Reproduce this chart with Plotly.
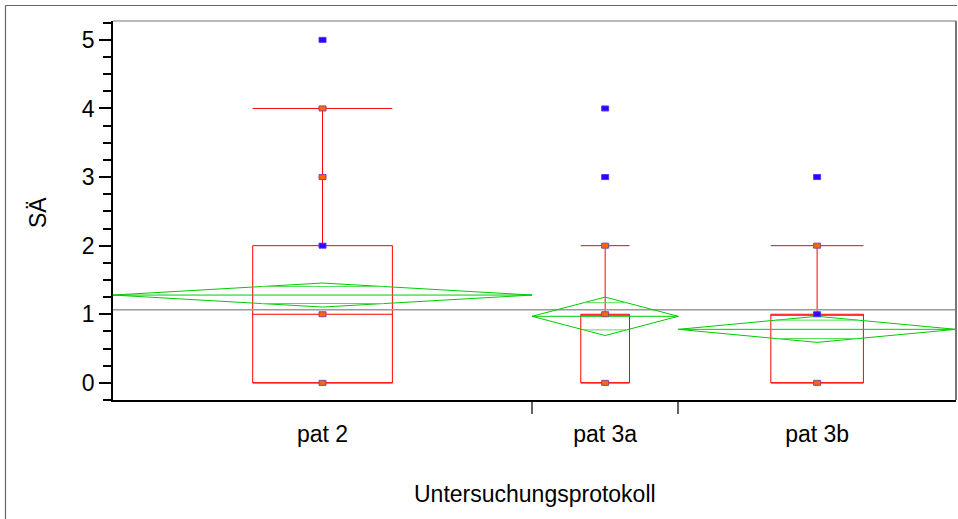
import math
import plotly.graph_objects as go

# Oneway analysis of SÄ by Untersuchungsprotokoll
groups = ["pat 2", "pat 3a", "pat 3b"]
group_n = [86, 30, 57]              # group sizes set the width of each column
means = [1.28, 0.97, 0.78]
ci_half = [0.175, 0.28, 0.19]       # half-height of the means diamonds (95% CI)
grand_mean = 1.064

q1 = [0, 0, 0]
medians = [1, 1, 1]
q3 = [2, 1, 1]
lower_whisker = [0, 0, 0]
upper_whisker = [4, 2, 2]

# distinct response values per group and their marker colour class
point_values = [
    [0, 1, 2, 3, 4, 5],
    [0, 1, 2, 3, 4],
    [0, 1, 2, 3],
]
point_class = [
    ["o", "o", "b", "o", "o", "b"],
    ["o", "o", "o", "b", "b"],
    ["o", "b", "o", "b"],
]

y_ticks = [0, 1, 2, 3, 4, 5]

W, H = 958, 519
ML, MR, MT, MB = 113, 2, 21, 119
PW, PH = W - ML - MR, H - MT - MB

GREEN = "#00cc00"
RED = "#ff0000"
FONT = "Liberation Sans, Arial, sans-serif"

edges = [0]
for n in group_n:
    edges.append(edges[-1] + n)
centers = [(edges[i] + edges[i + 1]) / 2 for i in range(len(groups))]
total = edges[-1]

fig = go.Figure()

# grand mean across all groups
fig.add_trace(go.Scatter(x=[0, total], y=[grand_mean, grand_mean], mode="lines",
                         line=dict(color="#9a9a9a", width=1.5), hoverinfo="skip"))

for i in range(len(groups)):
    x0, x1, xc = edges[i], edges[i + 1], centers[i]
    m, h = means[i], ci_half[i]
    # means diamond
    fig.add_trace(go.Scatter(x=[x0, xc, x1, xc, x0], y=[m, m + h, m, m - h, m],
                             mode="lines", line=dict(color=GREEN, width=1),
                             hoverinfo="skip"))
    fig.add_trace(go.Scatter(x=[x0, x1], y=[m, m], mode="lines",
                             line=dict(color=GREEN, width=1), hoverinfo="skip"))
    # overlap marks
    k = 1 / math.sqrt(2)
    hw = (x1 - x0) / 2 * (1 - k)
    for s in (1, -1):
        fig.add_trace(go.Scatter(x=[xc - hw, xc + hw], y=[m + s * h * k] * 2,
                                 mode="lines", line=dict(color="#55dd55", width=1),
                                 hoverinfo="skip"))
    # quantile box
    fig.add_trace(go.Box(x=[xc], q1=[q1[i]], median=[medians[i]], q3=[q3[i]],
                         lowerfence=[lower_whisker[i]], upperfence=[upper_whisker[i]],
                         width=(x1 - x0) / 3, whiskerwidth=1, boxpoints=False,
                         fillcolor="rgba(0,0,0,0)", line=dict(color=RED, width=1),
                         hoverinfo="skip"))

shapes = []
# data points as small rectangles anchored at their values
for i in range(len(groups)):
    for v, c in zip(point_values[i], point_class[i]):
        if c == "o":
            fill, edge = "#ff6600", "#884499"
        else:
            fill, edge = "#3300ff", "#5533ff"
        shapes.append(dict(type="rect", xref="x", yref="y",
                           xsizemode="pixel", ysizemode="pixel",
                           xanchor=centers[i], yanchor=v,
                           x0=-3.5, x1=3.5, y0=-2.5, y1=2.5,
                           fillcolor=fill, line=dict(color=edge, width=1),
                           layer="above"))


def px(xp):
    return (xp - ML) / PW


def py(yp):
    return (MT + PH - yp) / PH


# frame of the plot region and outer frame
shapes += [
    dict(type="line", xref="paper", yref="paper", x0=0, x1=1, y0=1, y1=1,
         line=dict(color="#777777", width=1.2)),
    dict(type="line", xref="paper", yref="paper", x0=1, x1=1, y0=0, y1=1,
         line=dict(color="#777777", width=2)),
    dict(type="line", xref="paper", yref="paper", x0=px(5.5), x1=px(957), y0=py(5.5), y1=py(5.5),
         line=dict(color="#666666", width=1.2)),
    dict(type="line", xref="paper", yref="paper", x0=px(5.5), x1=px(5.5), y0=py(5.5), y1=py(519),
         line=dict(color="#666666", width=1.2)),
]

fig.update_layout(
    width=W, height=H,
    margin=dict(l=ML, r=MR, t=MT, b=MB),
    paper_bgcolor="white", plot_bgcolor="white",
    showlegend=False,
    font=dict(family=FONT, size=23, color="black"),
    shapes=shapes,
    annotations=[
        dict(text="SÄ", xref="paper", yref="paper", x=px(38), y=py(213),
             xanchor="center", yanchor="middle",
             showarrow=False, textangle=-90, font=dict(size=23)),
        dict(text="Untersuchungsprotokoll", xref="paper", yref="paper",
             x=px(535), y=py(494), xanchor="center", yanchor="middle",
             showarrow=False, font=dict(size=23)),
    ],
)

fig.update_xaxes(
    range=[0, total], showgrid=False, zeroline=False,
    showline=True, linecolor="black", linewidth=1.5,
    tickmode="array", tickvals=centers, ticktext=groups,
    ticks="", ticklabelstandoff=13,
    minor=dict(tickmode="array", tickvals=edges[1:-1], ticks="outside",
               ticklen=12, tickcolor="#666666", tickwidth=1.5),
)
fig.update_yaxes(
    range=[-0.25, 5.275], showgrid=False, zeroline=False,
    showline=True, linecolor="black", linewidth=1.5,
    tickmode="array", tickvals=y_ticks,
    ticks="outside", ticklen=12, tickwidth=1.5, tickcolor="black",
    minor=dict(dtick=0.25, ticks="outside", ticklen=8, tickwidth=1.5, tickcolor="black"),
)

fig.write_html("out.html")
